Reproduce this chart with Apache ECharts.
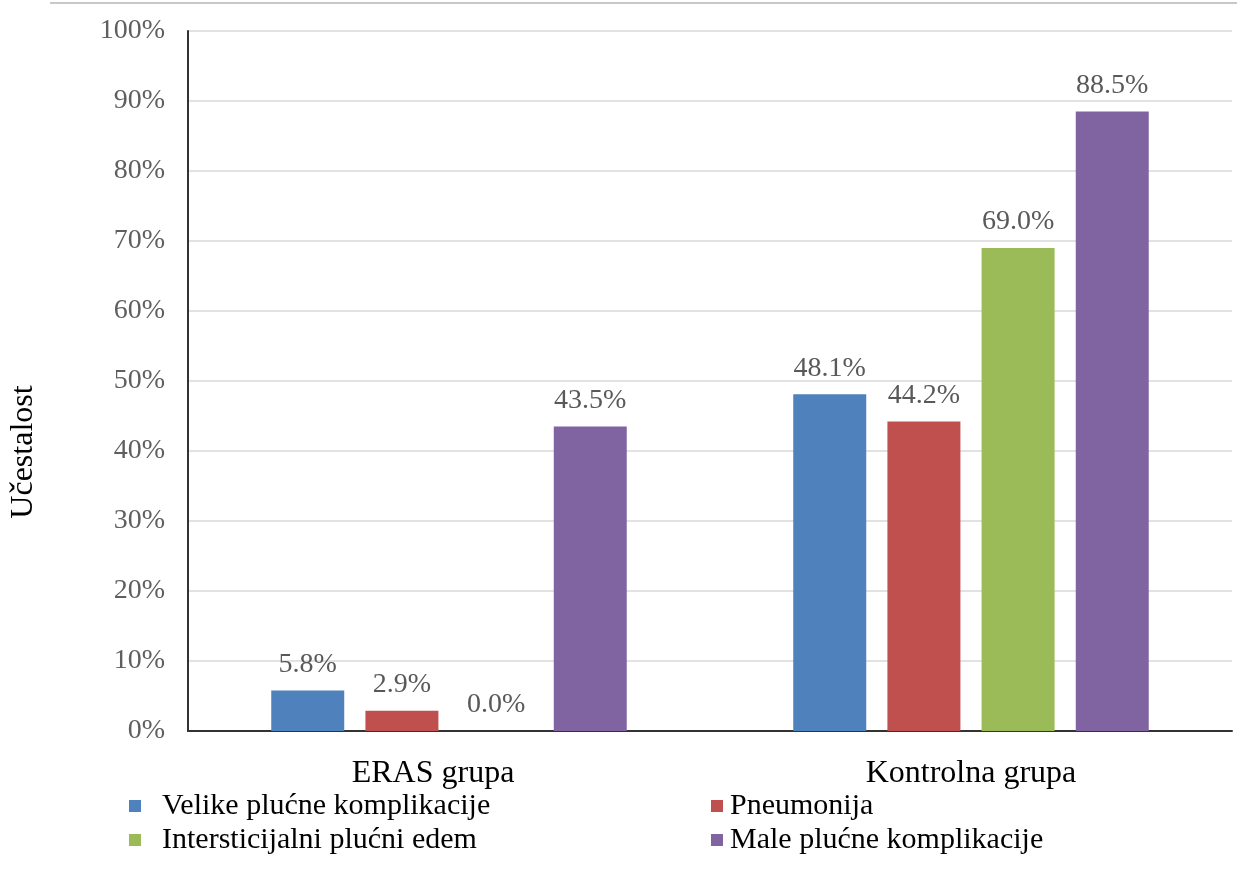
<!DOCTYPE html>
<html>
<head>
<meta charset="utf-8">
<script src="https://cdn.jsdelivr.net/npm/echarts@6/dist/echarts.min.js"></script>
<style>
  html, body { margin: 0; padding: 0; background: #fff; }
  #chart { width: 1237px; height: 879px; }
</style>
</head>
<body>
<div id="chart"></div>
<script>
var categories = ['ERAS grupa', 'Kontrolna grupa'];
var seriesNames = ['Velike plućne komplikacije', 'Pneumonija', 'Intersticijalni plućni edem', 'Male plućne komplikacije'];
var velike = [5.8, 48.1];
var pneumonija = [2.9, 44.2];
var edem = [0.0, 69.0];
var male = [43.5, 88.5];
var colors = ['#4F81BD', '#C0504D', '#9BBB59', '#8064A2'];

var myChart = echarts.init(document.getElementById('chart'));

function makeSeries(name, data, color) {
  return {
    name: name,
    type: 'bar',
    data: data,
    barWidth: 73,
    barGap: '29%',
    itemStyle: { color: color },
    label: {
      show: true,
      position: 'top',
      distance: 12,
      fontFamily: 'Liberation Serif',
      fontSize: 28,
      color: '#595959',
      formatter: function (p) { return p.value.toFixed(1) + '%'; }
    }
  };
}

var legendText = { fontFamily: 'Liberation Serif', fontSize: 30, color: '#000' };

var option = {
  animation: false,
  color: colors,
  grid: { left: 186, right: 5, top: 31, bottom: 148 },
  legend: [{
    data: [seriesNames[0], seriesNames[2]],
    orient: 'vertical',
    left: 124, top: 786,
    itemWidth: 12, itemHeight: 12, itemGap: 4,
    icon: 'rect',
    textStyle: Object.assign({ padding: [0, 0, 0, 16] }, legendText)
  }, {
    data: [seriesNames[1], seriesNames[3]],
    orient: 'vertical',
    left: 706, top: 786,
    itemWidth: 12, itemHeight: 12, itemGap: 4,
    icon: 'rect',
    textStyle: Object.assign({ padding: [0, 0, 0, 2] }, legendText)
  }],
  xAxis: {
    type: 'category',
    data: [
      { value: categories[0], textStyle: { padding: [0, 32, 0, 0] } },
      { value: categories[1], textStyle: { padding: [0, 0, 0, 0] } }
    ],
    axisTick: { show: false },
    axisLine: { lineStyle: { color: '#333', width: 2 } },
    axisLabel: { fontFamily: 'Liberation Serif', fontSize: 32, color: '#000', margin: 27 }
  },
  yAxis: {
    type: 'value',
    min: 0, max: 100, interval: 10,
    name: 'Učestalost',
    nameLocation: 'middle',
    nameGap: 148,
    nameRotate: 90,
    nameTextStyle: { fontFamily: 'Liberation Serif', fontSize: 32, color: '#000', padding: [0, 142, 0, 0] },
    axisLine: { show: true, lineStyle: { color: '#333', width: 2 } },
    axisTick: { show: false },
    splitLine: { lineStyle: { color: '#d9d9d9', width: 1.5 } },
    axisLabel: {
      fontFamily: 'Liberation Serif', fontSize: 28, color: '#5f5f5f', margin: 23,
      formatter: '{value}%'
    }
  },
  graphic: [{
    type: 'line',
    shape: { x1: 50, y1: 3, x2: 1237, y2: 3 },
    style: { stroke: '#c8c8c8', lineWidth: 2 }
  }],
  series: [
    makeSeries(seriesNames[0], velike, colors[0]),
    makeSeries(seriesNames[1], pneumonija, colors[1]),
    makeSeries(seriesNames[2], edem, colors[2]),
    makeSeries(seriesNames[3], male, colors[3])
  ]
};
myChart.setOption(option);
</script>
</body>
</html>
